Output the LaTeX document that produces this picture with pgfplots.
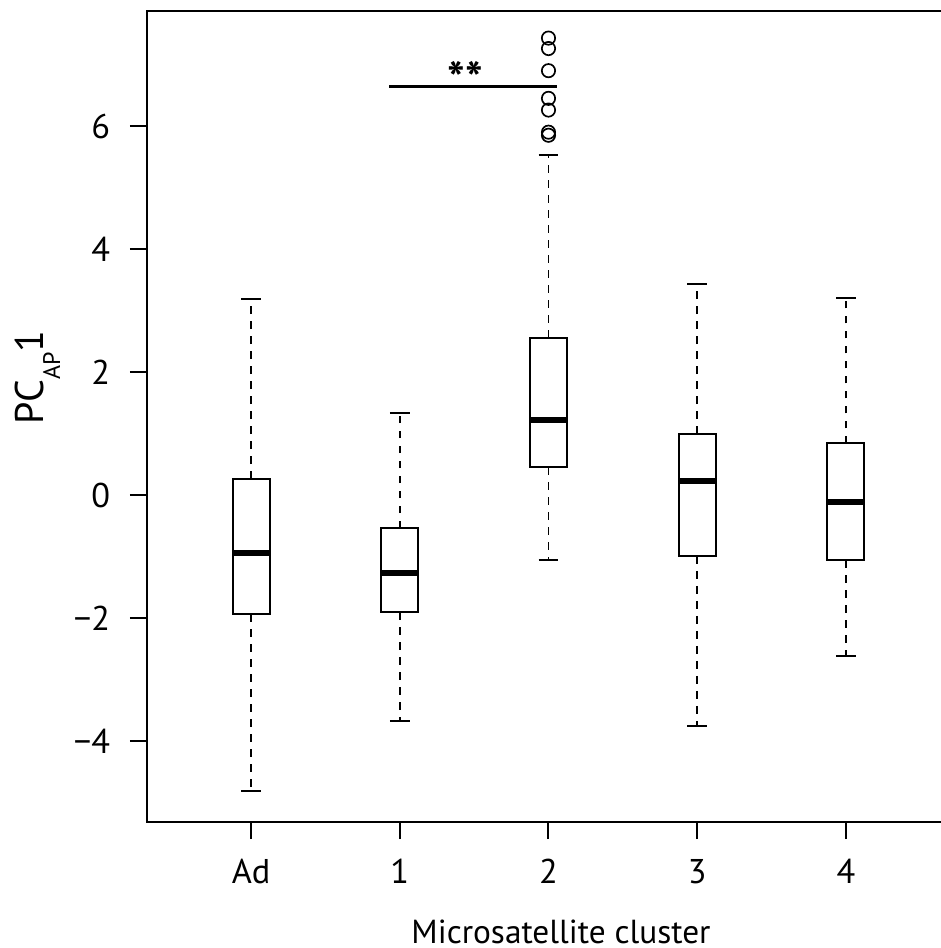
\documentclass[border=0pt]{standalone}
\usepackage{fontspec}
\setmainfont{PT Sans}
\usepackage{pgfplots}
\pgfplotsset{compat=1.18}
\usepgfplotslibrary{statistics}

\begin{document}
\begin{tikzpicture}[font=\fontsize{10.3}{12}\selectfont]
\begin{axis}[
  name=ax,
  scale only axis,
  width=240.9pt, height=243.3pt,
  xmin=0.3, xmax=5.7, ymin=-5.317, ymax=7.870,
  xtick={1,2,3,4,5}, xticklabels={Ad,1,2,3,4},
  ytick={-4,-2,0,2,4,6}, yticklabels={−4,−2,0,2,4,6},
  xtick pos=bottom, ytick pos=left,
  tick align=outside, major tick length=5.1pt,
  tick style={black, line width=0.6pt},
  axis line style={line width=0.7pt},
  xticklabel style={anchor=base, inner sep=0pt, yshift=-13.4pt},
  yticklabel style={anchor=east, inner sep=0pt, xshift=-5.8pt},
  xlabel={Microsatellite cluster},
  xlabel style={at={(axis description cs:0.5156,0)}, anchor=base, yshift=-36.3pt,
                inner sep=0pt, font=\fontsize{10}{12}\selectfont},
  ylabel={PC\raisebox{-5.1pt}{\fontsize{7.2}{8}\selectfont AP}1},
  ylabel style={at={(axis description cs:-0.1295,0.548)}, anchor=base,
                font=\fontsize{12}{14}\selectfont},
  boxplot/draw direction=y,
  boxplot/box extend=0.25,
  boxplot/whisker extend=0,
  boxplot/every box/.style={draw=black, line width=0.6pt},
  boxplot/every whisker/.style={draw=black, line width=0.5pt, dash pattern=on 2.3pt off 2.2pt},
  boxplot/every median/.style={draw=black, line width=1.8pt},
]
% Ad
\addplot[boxplot prepared={draw position=1, lower whisker=-4.82, lower quartile=-1.94,
  median=-0.95, upper quartile=0.26, upper whisker=3.19}] coordinates {};
% 1
\addplot[boxplot prepared={draw position=2, lower whisker=-3.67, lower quartile=-1.91,
  median=-1.26, upper quartile=-0.54, upper whisker=1.34}] coordinates {};
% 2
\addplot[boxplot prepared={draw position=3, lower whisker=-1.05, lower quartile=0.45,
  median=1.22, upper quartile=2.56, upper whisker=5.53}] coordinates {};
% 3
\addplot[boxplot prepared={draw position=4, lower whisker=-3.76, lower quartile=-0.99,
  median=0.22, upper quartile=0.99, upper whisker=3.43}] coordinates {};
% 4
\addplot[boxplot prepared={draw position=5, lower whisker=-2.61, lower quartile=-1.06,
  median=-0.12, upper quartile=0.84, upper whisker=3.21}] coordinates {};

% whisker caps
\addplot[black, line width=0.6pt, unbounded coords=jump] coordinates {
  (0.934,3.19) (1.066,3.19) (1,nan)
  (0.934,-4.82) (1.066,-4.82) (1,nan)
  (1.934,1.34) (2.066,1.34) (2,nan)
  (1.934,-3.67) (2.066,-3.67) (2,nan)
  (2.934,5.53) (3.066,5.53) (3,nan)
  (2.934,-1.05) (3.066,-1.05) (3,nan)
  (3.934,3.43) (4.066,3.43) (4,nan)
  (3.934,-3.76) (4.066,-3.76) (4,nan)
  (4.934,3.21) (5.066,3.21) (5,nan)
  (4.934,-2.61) (5.066,-2.61)
};

% outliers of cluster 2
\addplot[only marks, mark=o, mark size=2pt, mark options={line width=0.5pt, black}]
  coordinates {(3,7.43) (3,7.26) (3,6.90) (3,6.45) (3,6.26) (3,5.90) (3,5.85)};

% significance bar
\addplot[black, line width=0.8pt] coordinates {(1.93,6.64) (3.06,6.64)};
\node[anchor=base, inner sep=0pt, font=\bfseries\fontsize{14}{16}\selectfont] at (axis cs:2.44,6.5) {**};
\end{axis}
\pgfresetboundingbox
\path[use as bounding box] (ax.south west) ++(-44.1pt,-37.8pt) rectangle ++(282pt,284.4pt);
\end{tikzpicture}
\end{document}
